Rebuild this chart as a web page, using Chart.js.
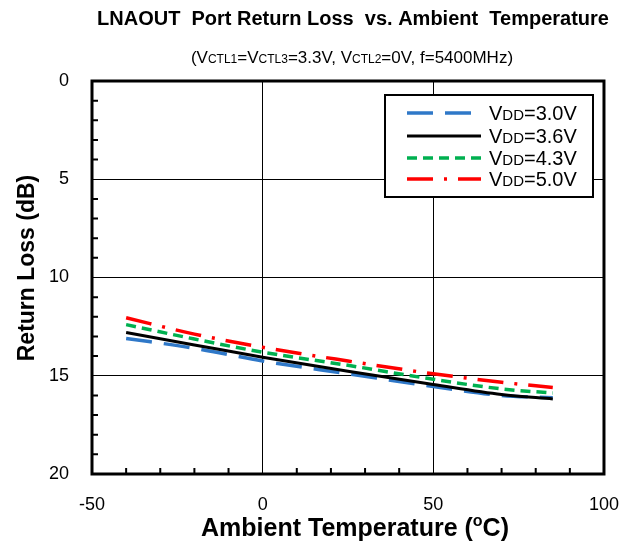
<!DOCTYPE html>
<html>
<head>
<meta charset="utf-8">
<script src="https://cdn.jsdelivr.net/npm/chart.js@4.4.1/dist/chart.umd.min.js"></script>
<style>
  html, body { margin: 0; padding: 0; background: #fff; }
  #wrap { width: 639px; height: 547px; }
</style>
</head>
<body>
<div id="wrap"><canvas id="chart" width="639" height="547"></canvas></div>
<script>
// temperatures (degC) where values were read
const temps = [-40, -20, 0, 25, 50, 70, 85];
// return loss (dB) per supply voltage
const rl30 = [13.1, 13.6, 14.25, 14.9, 15.55, 16.0, 16.12];
const rl36 = [12.8, 13.43, 14.06, 14.77, 15.44, 15.95, 16.18];
const rl43 = [12.4, 13.13, 13.8, 14.47, 15.18, 15.67, 15.88];
const rl50 = [12.05, 12.88, 13.55, 14.25, 14.9, 15.33, 15.6];
const seriesNames = ['=3.0V', '=3.6V', '=4.3V', '=5.0V'];
const xTicks = [-50, 0, 50, 100];
const yTicks = [0, 5, 10, 15, 20];

const FONT = '"Liberation Sans", Arial, sans-serif';
const toPts = (ys) => temps.map((t, i) => ({ x: t, y: ys[i] }));

const styles = [
  { color: '#2f78c8', width: 3.5, dash: [26, 12] },
  { color: '#000000', width: 3, dash: [] },
  { color: '#00b050', width: 3.5, dash: [10, 6] },
  { color: '#ff0000', width: 3.5, dash: [26, 11, 3, 11] }
];
const allSeries = [rl30, rl36, rl43, rl50];

// draws text made of parts with different sizes, parts = [text, size, bold, dy]
function drawRich(ctx, parts, x, y, align) {
  let total = 0;
  parts.forEach(p => {
    ctx.font = `${p[2] ? 'bold ' : ''}${p[1]}px ${FONT}`;
    total += ctx.measureText(p[0]).width;
  });
  let cx = align === 'center' ? x - total / 2 : x;
  ctx.textAlign = 'left';
  ctx.textBaseline = 'alphabetic';
  parts.forEach(p => {
    ctx.font = `${p[2] ? 'bold ' : ''}${p[1]}px ${FONT}`;
    ctx.fillText(p[0], cx, y + (p[3] || 0));
    cx += ctx.measureText(p[0]).width;
  });
}

const decor = {
  id: 'decor',
  beforeDraw(chart) {
    const ctx = chart.ctx;
    ctx.save();
    ctx.fillStyle = '#fff';
    ctx.fillRect(0, 0, chart.width, chart.height);
    ctx.restore();
  },
  afterDraw(chart) {
    const ctx = chart.ctx;
    const a = chart.chartArea;
    const xs = chart.scales.x, ys = chart.scales.y;
    ctx.save();
    ctx.fillStyle = '#000';
    ctx.strokeStyle = '#000';

    // titles
    drawRich(ctx, [['LNAOUT  Port Return Loss  vs. Ambient  Temperature', 20, true]], 353, 25, 'center');
    drawRich(ctx, [['(V', 17], ['CTL1', 12], ['=V', 17], ['CTL3', 12], ['=3.3V, V', 17], ['CTL2', 12], ['=0V, f=5400MHz)', 17]], 352, 63, 'center');

    // axis titles
    drawRich(ctx, [['Ambient Temperature (', 25, true], ['o', 16, true, -10], ['C)', 25, true]], 355, 536, 'center');
    ctx.save();
    ctx.translate(34, 268);
    ctx.rotate(-Math.PI / 2);
    drawRich(ctx, [['Return Loss (dB)', 23, true]], 0, 0, 'center');
    ctx.restore();

    // minor ticks, inward
    ctx.lineWidth = 2;
    ctx.beginPath();
    for (let v = 1; v < 20; v++) {
      if (v % 5 === 0) continue;
      const py = ys.getPixelForValue(v);
      ctx.moveTo(a.left, py); ctx.lineTo(a.left + 6, py);
    }
    for (let t = -40; t < 100; t += 10) {
      if (t % 50 === 0) continue;
      const px = xs.getPixelForValue(t);
      ctx.moveTo(px, a.bottom); ctx.lineTo(px, a.bottom - 6);
    }
    ctx.stroke();

    // frame
    ctx.lineWidth = 3;
    ctx.strokeRect(a.left, a.top, a.right - a.left, a.bottom - a.top);

    // legend
    ctx.fillStyle = '#fff';
    ctx.fillRect(385, 95, 208, 102);
    ctx.lineWidth = 2;
    ctx.strokeRect(385, 95, 208, 102);
    const rows = [113, 136, 158, 179];
    styles.forEach((s, i) => {
      ctx.strokeStyle = s.color;
      ctx.lineWidth = s.width;
      ctx.setLineDash(s.dash);
      ctx.beginPath();
      ctx.moveTo(407, rows[i]); ctx.lineTo(481, rows[i]);
      ctx.stroke();
      ctx.setLineDash([]);
      ctx.fillStyle = '#000';
      drawRich(ctx, [['V', 20], ['DD', 15], [seriesNames[i], 20]], 489, rows[i] + 7, 'left');
    });
    ctx.restore();
  }
};

new Chart(document.getElementById('chart'), {
  type: 'line',
  data: {
    datasets: allSeries.map((ys, i) => ({
      label: 'VDD' + seriesNames[i],
      data: toPts(ys),
      borderColor: styles[i].color,
      borderWidth: styles[i].width,
      borderDash: styles[i].dash,
      pointRadius: 0,
      fill: false,
      order: 3 - i,
      cubicInterpolationMode: 'monotone'
    }))
  },
  options: {
    responsive: false,
    animation: false,
    devicePixelRatio: 1,
    layout: { padding: { top: 81, right: 30, left: 0, bottom: 0 } },
    plugins: { legend: { display: false }, tooltip: { enabled: false } },
    scales: {
      x: {
        type: 'linear', min: -50, max: 100,
        afterBuildTicks: s => { s.ticks = xTicks.map(v => ({ value: v })); },
        afterFit: s => { s.height = 73; },
        grid: { color: '#000', lineWidth: 1, drawTicks: false },
        border: { display: false },
        ticks: { color: '#000', padding: 20, font: { family: FONT, size: 18 } }
      },
      y: {
        type: 'linear', min: 0, max: 20, reverse: true,
        afterBuildTicks: s => { s.ticks = yTicks.map(v => ({ value: v })); },
        afterFit: s => { s.width = 92; },
        grid: { color: '#000', lineWidth: 1, drawTicks: false },
        border: { display: false },
        ticks: { color: '#000', padding: 23, font: { family: FONT, size: 18 } }
      }
    }
  },
  plugins: [decor]
});
</script>
</body>
</html>
